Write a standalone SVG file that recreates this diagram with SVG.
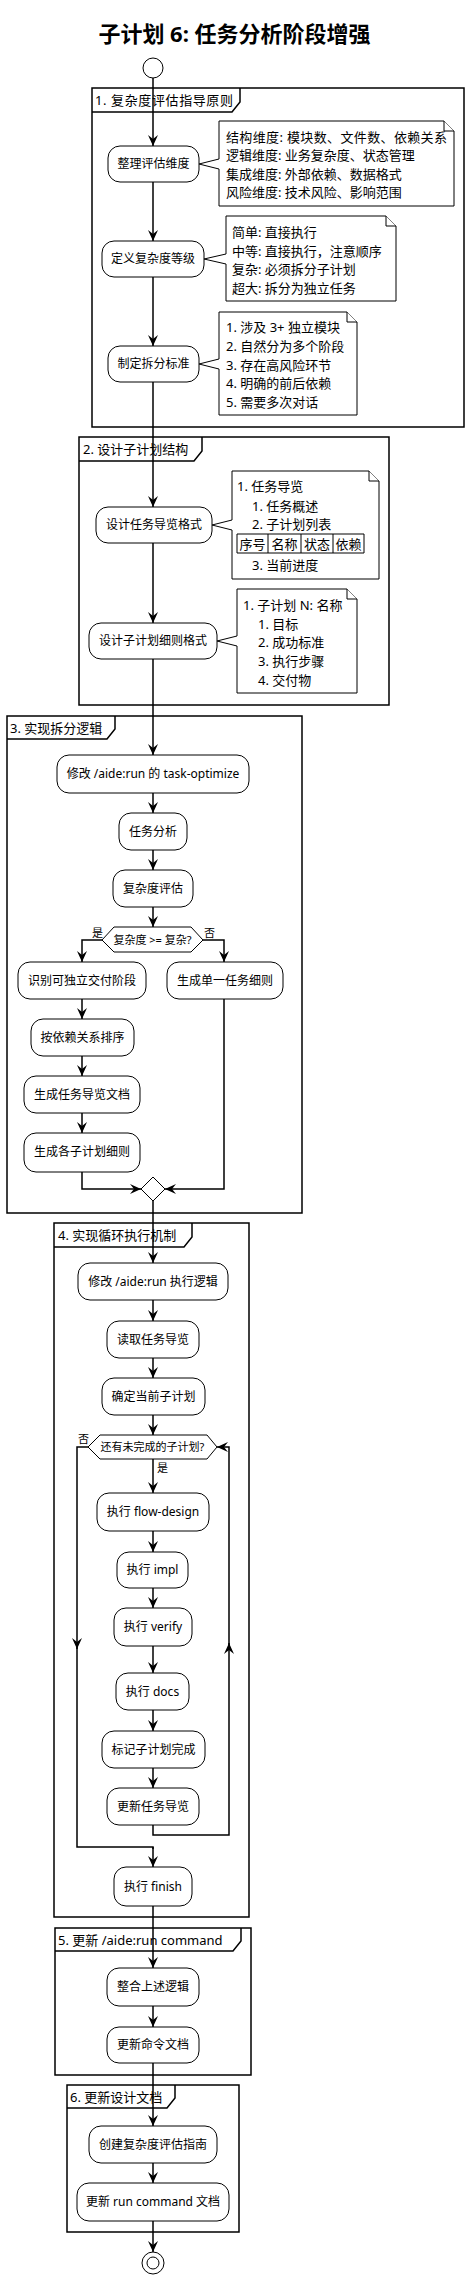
<svg xmlns="http://www.w3.org/2000/svg" width="469" height="2279" viewBox="0 0 469 2279">
<style>
text{font-family:"Noto Sans","Noto Sans CJK SC",sans-serif;fill:#000}
.title{font-size:22px;font-weight:bold}
.t{font-size:12px;text-anchor:middle}
.nt{font-size:13px}
.gl{font-size:13px}
.lb{font-size:11px}
.dt{font-size:11px;text-anchor:middle}
.node rect,.node path,.node polygon{fill:#fff;stroke:#000;stroke-width:1}
.note path{fill:#fff;stroke:#000;stroke-width:1}
.grp path{fill:none;stroke:#000;stroke-width:1.5}
.conn path{fill:none;stroke:#000;stroke-width:1.5;marker-end:url(#ah)}
.conn path.nm{marker-end:none}
.tc{font-size:13px;text-anchor:middle}
</style>
<defs>
<marker id="ah" viewBox="0 0 11 10" refX="11" refY="5" markerWidth="11" markerHeight="10" markerUnits="userSpaceOnUse" orient="auto"><path d="M0,0 L11,5 L0,10 L4,5 Z" fill="#000"/></marker>
</defs>
<rect width="469" height="2279" fill="#fff"/>
<text class="title" x="234.5" y="42" text-anchor="middle">子计划 6: 任务分析阶段增强</text>

<g id="groups" class="grp">
<g id="g1"><path d="M92,88 H464 V427 H92 Z"/><path d="M92,112 H232 L240,102 V88"/><text class="gl" x="95" y="105" textLength="138">1. 复杂度评估指导原则</text></g>
<g id="g2"><path d="M79,437 H389 V705 H79 Z"/><path d="M79,461 H194 L202,451 V437"/><text class="gl" x="83" y="454">2. 设计子计划结构</text></g>
<g id="g3"><path d="M7,716 H302 V1213 H7 Z"/><path d="M7,739 H107 L115,729 V716"/><text class="gl" x="10" y="733">3. 实现拆分逻辑</text></g>
<g id="g4"><path d="M54,1223 H249 V1917 H54 Z"/><path d="M54,1247 H184 L192,1237 V1223"/><text class="gl" x="58" y="1240">4. 实现循环执行机制</text></g>
<g id="g5"><path d="M55,1928 H251 V2075 H55 Z"/><path d="M55,1951 H233 L241,1941 V1928"/><text class="gl" x="58" y="1945">5. 更新 /aide:run command</text></g>
<g id="g6"><path d="M67,2085 H239 V2232 H67 Z"/><path d="M67,2108 H167 L175,2098 V2085"/><text class="gl" x="70" y="2102">6. 更新设计文档</text></g>
</g>

<g id="connectors" class="conn">
<path d="M153,78 V146"/>
<path d="M153,182 V241"/>
<path d="M153,277 V346"/>
<path d="M153,382 V507"/>
<path d="M153,543 V623"/>
<path d="M153,659 V755"/>
<path d="M153,793 V813"/>
<path d="M153,850 V870"/>
<path d="M153,907 V927"/>
<path d="M102,940 H82 V962"/>
<path d="M203,940 H224 V962"/>
<path d="M82,999 V1019"/>
<path d="M82,1056 V1076"/>
<path d="M82,1113 V1133"/>
<path d="M82,1172 V1189 H141"/>
<path d="M224,999 V1189 H165"/>
<path d="M153,1201 V1263"/>
<path d="M153,1300 V1321"/>
<path d="M153,1358 V1378"/>
<path d="M153,1415 V1435"/>
<path d="M153,1459 V1493"/>
<path d="M153,1531 V1552"/>
<path d="M153,1588 V1608"/>
<path d="M153,1646 V1673"/>
<path d="M153,1710 V1731"/>
<path d="M153,1768 V1788"/>
<path d="M153,1825 V1835 H229 V1643"/>
<path d="M229,1645 V1447 H217"/>
<path d="M88,1447 H77 V1649"/>
<path class="nm" d="M77,1647 V1847 H153 V1849"/>
<path d="M153,1847 V1867"/>
<path d="M153,1906 V1968"/>
<path d="M153,2006 V2027"/>
<path d="M153,2063 V2126"/>
<path d="M153,2163 V2183"/>
<path d="M153,2221 V2252"/>
</g>

<g id="start" class="node"><circle cx="153" cy="68" r="10" fill="#fff" stroke="#000" stroke-width="1"/></g>

<g id="n1" class="node"><rect x="108" y="146" width="91" height="36" rx="12"/><text class="t" x="153.5" y="168">整理评估维度</text></g>
<g id="note1" class="note"><path d="M219,121 H444 L454,131 V206 H219 V169 L199,164 L219,159 Z"/><path d="M444,121 V131 H454"/>
<text class="nt" x="226" y="141.5" textLength="221">结构维度: 模块数、文件数、依赖关系</text>
<text class="nt" x="226" y="160">逻辑维度: 业务复杂度、状态管理</text>
<text class="nt" x="226" y="178.5">集成维度: 外部依赖、数据格式</text>
<text class="nt" x="226" y="197">风险维度: 技术风险、影响范围</text></g>

<g id="n2" class="node"><rect x="102" y="241" width="102" height="36" rx="12"/><text class="t" x="153" y="263">定义复杂度等级</text></g>
<g id="note2" class="note"><path d="M226,216 H386 L396,226 V301 H226 V264 L204,259 L226,254 Z"/><path d="M386,216 V226 H396"/>
<text class="nt" x="232" y="237">简单: 直接执行</text>
<text class="nt" x="232" y="255.5">中等: 直接执行，注意顺序</text>
<text class="nt" x="232" y="274">复杂: 必须拆分子计划</text>
<text class="nt" x="232" y="292.5">超大: 拆分为独立任务</text></g>

<g id="n3" class="node"><rect x="108" y="346" width="91" height="36" rx="12"/><text class="t" x="153.5" y="368">制定拆分标准</text></g>
<g id="note3" class="note"><path d="M219,312 H347 L357,322 V415 H219 V369 L199,364 L219,359 Z"/><path d="M347,312 V322 H357"/>
<text class="nt" x="226" y="332">1. 涉及 3+ 独立模块</text>
<text class="nt" x="226" y="350.8">2. 自然分为多个阶段</text>
<text class="nt" x="226" y="369.6">3. 存在高风险环节</text>
<text class="nt" x="226" y="388.4">4. 明确的前后依赖</text>
<text class="nt" x="226" y="407.2">5. 需要多次对话</text></g>

<g id="n4" class="node"><rect x="96" y="507" width="116" height="36" rx="12"/><text class="t" x="154" y="529">设计任务导览格式</text></g>
<g id="note4" class="note"><path d="M232,471 H369 L379,481 V579 H232 V530 L212,525 L232,520 Z"/><path d="M369,471 V481 H379"/>
<text class="nt" x="237" y="491">1. 任务导览</text>
<text class="nt" x="252" y="511">1. 任务概述</text>
<text class="nt" x="252" y="529">2. 子计划列表</text>
<path d="M237,534 H364 V553 H237 Z M268,534 V553 M301,534 V553 M333,534 V553"/>
<text class="tc" x="252.5" y="548.5">序号</text>
<text class="tc" x="284.5" y="548.5">名称</text>
<text class="tc" x="317" y="548.5">状态</text>
<text class="tc" x="348.5" y="548.5">依赖</text>
<text class="nt" x="252" y="570">3. 当前进度</text></g>

<g id="n5" class="node"><rect x="89" y="623" width="128" height="36" rx="12"/><text class="t" x="153" y="645">设计子计划细则格式</text></g>
<g id="note5" class="note"><path d="M237,589 H347 L357,599 V693 H237 V646 L217,641 L237,636 Z"/><path d="M347,589 V599 H357"/>
<text class="nt" x="243" y="610">1. 子计划 N: 名称</text>
<text class="nt" x="258" y="628.7">1. 目标</text>
<text class="nt" x="258" y="647.4">2. 成功标准</text>
<text class="nt" x="258" y="666.1">3. 执行步骤</text>
<text class="nt" x="258" y="684.8">4. 交付物</text></g>

<g id="n6" class="node"><rect x="57" y="755" width="192" height="38" rx="12"/><text class="t" x="153" y="778">修改 /aide:run 的 task-optimize</text></g>
<g id="n7" class="node"><rect x="119" y="813" width="68" height="37" rx="12"/><text class="t" x="153" y="836">任务分析</text></g>
<g id="n8" class="node"><rect x="113" y="870" width="80" height="37" rx="12"/><text class="t" x="153" y="893">复杂度评估</text></g>
<g id="d1" class="node"><polygon points="102,940 114,927 191,927 203,940 191,952 114,952"/><text class="dt" x="152.5" y="944">复杂度 &gt;= 复杂?</text>
<text class="lb" x="92" y="937">是</text><text class="lb" x="204" y="937">否</text></g>
<g id="n9" class="node"><rect x="18" y="962" width="128" height="37" rx="12"/><text class="t" x="82" y="985">识别可独立交付阶段</text></g>
<g id="n10" class="node"><rect x="167" y="962" width="116" height="37" rx="12"/><text class="t" x="225" y="985">生成单一任务细则</text></g>
<g id="n11" class="node"><rect x="31" y="1019" width="103" height="37" rx="12"/><text class="t" x="82.5" y="1042">按依赖关系排序</text></g>
<g id="n12" class="node"><rect x="24" y="1076" width="116" height="37" rx="12"/><text class="t" x="82" y="1099">生成任务导览文档</text></g>
<g id="n13" class="node"><rect x="24" y="1133" width="116" height="39" rx="12"/><text class="t" x="82" y="1156">生成各子计划细则</text></g>
<g id="merge" class="node"><polygon points="153,1177 165,1189 153,1201 141,1189"/></g>

<g id="n14" class="node"><rect x="78" y="1263" width="150" height="37" rx="12"/><text class="t" x="153" y="1286">修改 /aide:run 执行逻辑</text></g>
<g id="n15" class="node"><rect x="107" y="1321" width="92" height="37" rx="12"/><text class="t" x="153" y="1344">读取任务导览</text></g>
<g id="n16" class="node"><rect x="102" y="1378" width="103" height="37" rx="12"/><text class="t" x="153.5" y="1401">确定当前子计划</text></g>
<g id="d2" class="node"><polygon points="88,1447 100,1435 207,1435 217,1447 207,1459 100,1459"/><text class="dt" x="152.5" y="1451">还有未完成的子计划?</text>
<text class="lb" x="78" y="1443">否</text><text class="lb" x="157" y="1472">是</text></g>
<g id="n17" class="node"><rect x="97" y="1493" width="112" height="38" rx="12"/><text class="t" x="153" y="1516">执行 flow-design</text></g>
<g id="n18" class="node"><rect x="117" y="1552" width="71" height="36" rx="12"/><text class="t" x="152.5" y="1574">执行 impl</text></g>
<g id="n19" class="node"><rect x="114" y="1608" width="78" height="38" rx="12"/><text class="t" x="153" y="1631">执行 verify</text></g>
<g id="n20" class="node"><rect x="116" y="1673" width="73" height="37" rx="12"/><text class="t" x="152.5" y="1696">执行 docs</text></g>
<g id="n21" class="node"><rect x="102" y="1731" width="103" height="37" rx="12"/><text class="t" x="153.5" y="1754">标记子计划完成</text></g>
<g id="n22" class="node"><rect x="107" y="1788" width="92" height="37" rx="12"/><text class="t" x="153" y="1811">更新任务导览</text></g>
<g id="n23" class="node"><rect x="114" y="1867" width="78" height="39" rx="12"/><text class="t" x="153" y="1891">执行 finish</text></g>
<g id="n24" class="node"><rect x="107" y="1968" width="92" height="38" rx="12"/><text class="t" x="153" y="1991">整合上述逻辑</text></g>
<g id="n25" class="node"><rect x="107" y="2027" width="92" height="36" rx="12"/><text class="t" x="153" y="2049">更新命令文档</text></g>
<g id="n26" class="node"><rect x="89" y="2126" width="128" height="37" rx="12"/><text class="t" x="153" y="2149">创建复杂度评估指南</text></g>
<g id="n27" class="node"><rect x="77" y="2183" width="152" height="38" rx="12"/><text class="t" x="153" y="2206">更新 run command 文档</text></g>
<g id="end" class="node"><circle cx="153" cy="2263" r="11" fill="#fff" stroke="#000" stroke-width="1"/><circle cx="153" cy="2263" r="6" fill="none" stroke="#000" stroke-width="1"/></g>
</svg>
